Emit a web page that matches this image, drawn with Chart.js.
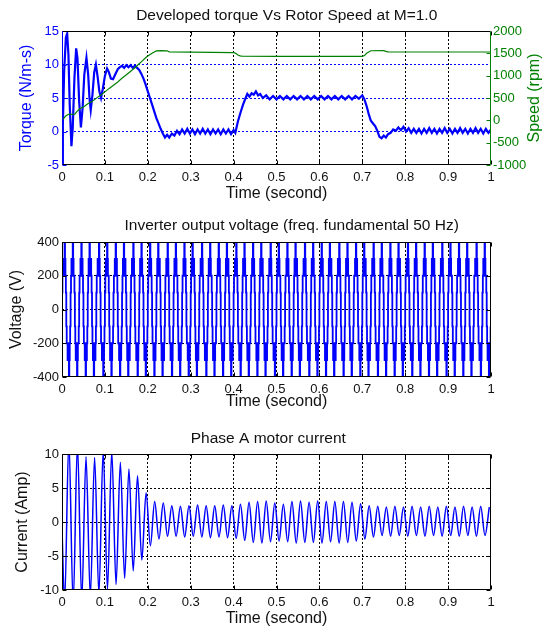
<!DOCTYPE html>
<html>
<head>
<meta charset="utf-8">
<script src="https://cdn.jsdelivr.net/npm/chart.js@4.4.1/dist/chart.umd.min.js"></script>
<style>
  html, body { margin: 0; padding: 0; background: #fff; }
  #wrap { position: relative; width: 542px; height: 629px; overflow: hidden; }
  canvas { position: absolute; left: 0; }
</style>
</head>
<body>
<div id="wrap">
  <canvas id="c1" width="542" height="203" style="top:0px"></canvas>
  <canvas id="c2" width="542" height="208" style="top:203px"></canvas>
  <canvas id="c3" width="542" height="218" style="top:411px"></canvas>
</div>
<script>
// ---- plot 1 : developed torque (N/m-s) and rotor speed (rpm) ----
const torqueTime = [
  0, 0.002, 0.005, 0.009, 0.012, 0.015, 0.018, 0.022, 0.025, 0.029,
  0.033, 0.036, 0.040, 0.044, 0.048, 0.052, 0.057, 0.061, 0.064, 0.067,
  0.071, 0.075, 0.079, 0.083, 0.087, 0.091, 0.095, 0.100, 0.105, 0.109,
  0.114, 0.119, 0.124, 0.130, 0.135, 0.140, 0.145, 0.150, 0.155, 0.160,
  0.165, 0.170, 0.175, 0.180, 0.185, 0.190, 0.195, 0.200, 0.205, 0.210,
  0.215, 0.220, 0.225, 0.230, 0.235, 0.240, 0.245, 0.250, 0.256, 0.262,
  0.268, 0.274, 0.280, 0.286, 0.292, 0.298, 0.304, 0.310, 0.316, 0.322,
  0.328, 0.334, 0.340, 0.346, 0.352, 0.358, 0.364, 0.370, 0.376, 0.382,
  0.388, 0.394, 0.400, 0.404, 0.410, 0.416, 0.422, 0.428, 0.432, 0.437,
  0.442, 0.447, 0.452, 0.457, 0.462, 0.468, 0.476, 0.484, 0.492, 0.500,
  0.508, 0.516, 0.524, 0.532, 0.540, 0.548, 0.556, 0.564, 0.572, 0.580,
  0.588, 0.596, 0.604, 0.612, 0.620, 0.628, 0.636, 0.644, 0.652, 0.660,
  0.668, 0.676, 0.684, 0.692, 0.700, 0.705, 0.710, 0.715, 0.720, 0.725,
  0.730, 0.735, 0.740, 0.745, 0.750, 0.755, 0.760, 0.766, 0.772, 0.778,
  0.784, 0.790, 0.796, 0.802, 0.808, 0.814, 0.820, 0.826, 0.832, 0.838,
  0.844, 0.850, 0.856, 0.862, 0.868, 0.874, 0.880, 0.886, 0.892, 0.898,
  0.904, 0.910, 0.916, 0.922, 0.928, 0.934, 0.940, 0.946, 0.952, 0.958,
  0.964, 0.970, 0.976, 0.982, 0.988, 0.994, 1.000
];
const torqueValue = [
  -6, 1, 9, 14, 14.6, 11.5, 4, -2.2, 0.5, 8,
  12.4, 11, 4.5, 0.6, 3.5, 8.5, 11.0, 8.5, 5, 3.2,
  5.5, 8.8, 10.0, 8.2, 6.0, 5.0, 6.3, 8.3, 9.4, 8.9,
  7.9, 7.8, 8.5, 9.3, 9.6, 9.8, 9.5, 9.9, 9.6, 9.9,
  9.5, 9.8, 9.5, 9.2, 8.6, 7.9, 7.0, 6.0, 5.0, 4.0,
  3.0, 2.0, 1.2, 0.4, -0.3, -0.9, -0.5, -0.9, -0.3, -0.6,
  0.1, -0.4, 0.3, -0.3, 0.4, -0.3, 0.3, -0.4, 0.3, -0.3,
  0.4, -0.3, 0.3, -0.4, 0.3, -0.3, 0.3, -0.4, 0.3, -0.3,
  0.3, -0.4, 0.2, -0.2, 1.5, 2.8, 4.0, 5.0, 5.6, 5.2,
  5.7, 5.5, 6.0, 5.4, 5.6, 5.0, 5.4, 4.8, 5.3, 4.8,
  5.3, 4.8, 5.3, 4.8, 5.3, 4.8, 5.3, 4.8, 5.3, 4.8,
  5.3, 4.8, 5.3, 4.8, 5.3, 4.8, 5.3, 4.8, 5.3, 4.8,
  5.3, 4.8, 5.3, 4.9, 5.4, 4.8, 3.8, 2.6, 1.6, 1.2,
  0.8, 0.1, -0.8, -1.0, -0.6, -0.9, -0.4, -0.2, 0.3, 0.1,
  0.6, 0.2, 0.7, 0.0, 0.5, -0.2, 0.4, -0.2, 0.4, -0.3,
  0.4, -0.2, 0.5, -0.2, 0.4, -0.3, 0.4, -0.2, 0.5, -0.2,
  0.4, -0.3, 0.4, -0.2, 0.5, -0.2, 0.4, -0.3, 0.4, -0.2,
  0.5, -0.2, 0.4, -0.3, 0.4, -0.2, 0.3
];
const speedTime = [
  0, 0.008, 0.015, 0.030, 0.035, 0.042, 0.050, 0.061, 0.070, 0.081,
  0.090, 0.100, 0.110, 0.120, 0.130, 0.139, 0.150, 0.158, 0.168, 0.178,
  0.186, 0.193, 0.200, 0.209, 0.215, 0.220, 0.230, 0.245, 0.250, 0.300,
  0.350, 0.400, 0.405, 0.410, 0.415, 0.420, 0.500, 0.600, 0.700, 0.705,
  0.710, 0.720, 0.750, 0.755, 0.760, 0.800, 0.900, 1.000
];
const speedRpm = [
  0, 90, 135, 140, 200, 266, 300, 378, 420, 503,
  560, 637, 715, 787, 860, 937, 1020, 1084, 1160, 1250,
  1320, 1383, 1440, 1495, 1530, 1555, 1560, 1556, 1532, 1525,
  1522, 1518, 1500, 1462, 1442, 1436, 1434, 1430, 1430, 1450,
  1500, 1558, 1562, 1545, 1532, 1530, 1530, 1530
];

// ---- plot 2 : inverter output voltage, one string per 20 ms cycle, 1 ms per character ----
// 0..4 -> 0..400 V, a..d -> -100..-400 V
const voltageStep = 0.001;
const voltageLevels = { '0': 0, '1': 100, '2': 200, '3': 300, '4': 400, 'a': -100, 'b': -200, 'c': -300, 'd': -400 };
const voltageCycles = [
  "1223234321abbcbcdcba", "1232343221abcbcdcbba", "1223243321abbcbdccba", "1232432321abcbdcbcba", "1223234321abbcbcdcba",
  "1232343221abcbcdcbba", "1223243321abbcbdccba", "1232432321abcbdcbcba", "1223234321abbcbcdcba", "1232343221abcbcdcbba",
  "1223243321abbcbdccba", "1232432321abcbdcbcba", "1223234321abbcbcdcba", "1232343221abcbcdcbba", "1223243321abbcbdccba",
  "1232432321abcbdcbcba", "1223234321abbcbcdcba", "1232343221abcbcdcbba", "1223243321abbcbdccba", "1232432321abcbdcbcba",
  "1223234321abbcbcdcba", "1232343221abcbcdcbba", "1223243321abbcbdccba", "1232432321abcbdcbcba", "1223234321abbcbcdcba",
  "1232343221abcbcdcbba", "1223243321abbcbdccba", "1232432321abcbdcbcba", "1223234321abbcbcdcba", "1232343221abcbcdcbba",
  "1223243321abbcbdccba", "1232432321abcbdcbcba", "1223234321abbcbcdcba", "1232343221abcbcdcbba", "1223243321abbcbdccba",
  "1232432321abcbdcbcba", "1223234321abbcbcdcba", "1232343221abcbcdcbba", "1223243321abbcbdccba", "1232432321abcbdcbcba",
  "1223234321abbcbcdcba", "1232343221abcbcdcbba", "1223243321abbcbdccba", "1232432321abcbdcbcba", "1223234321abbcbcdcba",
  "1232343221abcbcdcbba", "1223243321abbcbdccba", "1232432321abcbdcbcba", "1223234321abbcbcdcba", "1232343221abcbcdcbba"
];

// ---- plot 3 : phase A current, successive troughs / peaks every 10 ms from 6 ms ----
const currentStart = -1;
const currentFirstExtremum = 0.006;
const currentHalfPeriod = 0.01;
const currentExtrema = [
  -12, 12, -12, 11.5, -11.5, 9.6, -11, 9.5, -10.6, 10.5,
  -9.9, 10.4, -9.2, 8.8, -8.3, 7.8, -7.2, 6.8, -5.6, 4.3,
  -3.5, 3.0, -2.5, 2.8, -2.1, 2.4, -2.1, 2.3, -2.2, 2.4,
  -2.1, 2.5, -2.2, 2.4, -2.3, 2.4, -2.2, 2.5, -2.3, 2.4,
  -2.4, 2.6, -2.7, 2.9, -3.0, 3.0, -3.1, 3.1, -2.9, 2.8,
  -2.8, 2.6, -2.9, 3.0, -3.1, 3.1, -3.0, 2.9, -3.0, 3.1,
  -3.1, 3.0, -2.9, 3.0, -3.1, 3.0, -3.0, 2.9, -2.8, 2.7,
  -2.5, 2.4, -2.2, 2.3, -2.0, 2.2, -2.1, 2.3, -2.0, 2.2,
  -2.1, 2.3, -2.0, 2.2, -2.1, 2.3, -2.0, 2.2, -2.1, 2.3,
  -2.0, 2.2, -2.1, 2.3, -2.0, 2.2, -2.1, 2.3, -2.0, 2.2
];

const BLUE = '#0000ff';
const GREEN = '#008000';
const INK = '#111';
const FONT = '"Liberation Sans", Arial, Helvetica, sans-serif';
Chart.defaults.font.family = FONT;
const tickFont = { size: 13 };
const labelFont = { size: 16 };
const plainTick = (v) => String(Math.round(v * 100) / 100);

const torquePts = torqueTime.map((t, i) => ({ x: t, y: torqueValue[i] }));
const speedPts = speedTime.map((t, i) => ({ x: t, y: speedRpm[i] }));
const voltagePts = [];
voltageCycles.forEach((s, c) => {
  for (let i = 0; i < s.length; i++) {
    voltagePts.push({ x: (c * s.length + i) * voltageStep, y: voltageLevels[s[i]] });
  }
});
const currentPts = [{ x: 0, y: currentStart }].concat(
  currentExtrema.map((v, k) => ({ x: currentFirstExtremum + k * currentHalfPeriod, y: v }))
);

// grid line hidden at the edges (the frame is drawn there)
function innerGrid(color) {
  return (c) => {
    const s = c.scale;
    if (!c.tick || c.tick.value === s.min || c.tick.value === s.max) return 'rgba(0,0,0,0)';
    return color;
  };
}

function xScale(h, padBottom) {
  return {
    type: 'linear', min: 0, max: 1,
    ticks: { stepSize: 0.1, color: INK, font: tickFont, padding: 5, maxRotation: 0, autoSkip: false, callback: plainTick },
    grid: { drawTicks: false, color: innerGrid('#000'), lineWidth: 1 },
    border: { display: false, dash: [2, 2] },
    title: { display: true, text: 'Time (second)', color: INK, font: labelFont, padding: { top: 0, bottom: padBottom } },
    afterFit: (s) => { s.height = h; }
  };
}

function yScale(min, max, step, color, gridColor, label, labelPad) {
  return {
    type: 'linear', position: 'left', min: min, max: max,
    ticks: { stepSize: step, color: color, font: tickFont, padding: 3, callback: plainTick },
    grid: { drawTicks: false, color: innerGrid(gridColor), lineWidth: 1 },
    border: { display: false, dash: [2, 2] },
    title: { display: true, text: label, color: color, font: labelFont, padding: { top: labelPad, bottom: 0 } },
    afterFit: (s) => { s.width = 62; }
  };
}

// frame, inward tick marks and the panel titles
const panelDeco = {
  id: 'panelDeco',
  afterDraw(chart, args, o) {
    const { ctx, chartArea: a } = chart;
    const L = Math.round(a.left) + 0.5, R = Math.round(a.right) - 0.5;
    const T = Math.round(a.top) + 0.5, B = Math.round(a.bottom) - 0.5;
    const len = 4;
    ctx.save();
    ctx.lineWidth = 1;
    const line = (x1, y1, x2, y2, c) => {
      ctx.strokeStyle = c; ctx.beginPath(); ctx.moveTo(x1, y1); ctx.lineTo(x2, y2); ctx.stroke();
    };
    const xs = chart.scales.x;
    xs.ticks.forEach((t) => {
      const px = Math.round(xs.getPixelForValue(t.value)) + 0.5;
      line(px, B, px, B - len, '#000');
      line(px, T, px, T + len, '#000');
    });
    const ys = chart.scales.y;
    const rs = chart.scales.y2 || ys;
    ys.ticks.forEach((t) => {
      const py = Math.round(ys.getPixelForValue(t.value)) + 0.5;
      line(L, py, L + len, py, o.leftColor);
    });
    rs.ticks.forEach((t) => {
      const py = Math.round(rs.getPixelForValue(t.value)) + 0.5;
      line(R, py, R - len, py, o.rightColor);
    });
    line(L, T, R, T, '#000');
    line(L, B, R, B, '#000');
    line(L, T, L, B, o.leftColor);
    line(R, T, R, B, o.rightColor);

    ctx.textAlign = 'center';
    ctx.textBaseline = 'middle';
    ctx.fillStyle = INK;
    ctx.font = '15.5px ' + FONT;
    ctx.fillText(o.title, o.titleX, o.titleY);
    if (o.rightLabel) {
      ctx.translate(o.rightLabelX, (a.top + a.bottom) / 2);
      ctx.rotate(-Math.PI / 2);
      ctx.fillStyle = o.rightColor;
      ctx.font = '16px ' + FONT;
      ctx.fillText(o.rightLabel, 0, 0);
    }
    ctx.restore();
  }
};

const common = { responsive: false, animation: false, events: [] };
const noLegend = { legend: { display: false }, tooltip: { enabled: false } };

new Chart(document.getElementById('c1'), {
  type: 'line',
  data: {
    datasets: [
      { data: speedPts, yAxisID: 'y2', borderColor: GREEN, borderWidth: 1.2, pointRadius: 0, tension: 0 },
      { data: torquePts, yAxisID: 'y', borderColor: BLUE, borderWidth: 2.2, pointRadius: 0, tension: 0 }
    ]
  },
  options: Object.assign({}, common, {
    layout: { padding: { top: 31, left: 0, right: 0, bottom: 0 } },
    scales: {
      x: xScale(38, 0),
      y: yScale(-5, 15, 5, BLUE, BLUE, 'Torque (N/m-s)', 17),
      y2: {
        type: 'linear', position: 'right', min: -1000, max: 2000,
        ticks: { stepSize: 500, color: GREEN, font: tickFont, padding: 2, callback: plainTick },
        grid: { drawOnChartArea: false, drawTicks: false },
        border: { display: false },
        afterFit: (s) => { s.width = 51; }
      }
    },
    plugins: Object.assign({}, noLegend, {
      panelDeco: {
        title: 'Developed torque Vs Rotor Speed at M=1.0', titleX: 286.7, titleY: 15.3,
        leftColor: BLUE, rightColor: GREEN, rightLabel: 'Speed (rpm)', rightLabelX: 535
      }
    })
  }),
  plugins: [panelDeco]
});

new Chart(document.getElementById('c2'), {
  type: 'line',
  data: {
    datasets: [
      { data: voltagePts, borderColor: BLUE, borderWidth: 1.8, pointRadius: 0, stepped: true }
    ]
  },
  options: Object.assign({}, common, {
    layout: { padding: { top: 39, left: 0, right: 51, bottom: 0 } },
    scales: {
      x: xScale(34, 0),
      y: yScale(-400, 400, 200, INK, '#000', 'Voltage (V)', 7)
    },
    plugins: Object.assign({}, noLegend, {
      panelDeco: {
        title: 'Inverter output voltage (freq. fundamental 50 Hz)', titleX: 291.7, titleY: 22.7,
        leftColor: '#000', rightColor: '#000'
      }
    })
  }),
  plugins: [panelDeco]
});

new Chart(document.getElementById('c3'), {
  type: 'line',
  data: {
    datasets: [
      { data: currentPts, borderColor: BLUE, borderWidth: 1.5, pointRadius: 0, cubicInterpolationMode: 'monotone' }
    ]
  },
  options: Object.assign({}, common, {
    layout: { padding: { top: 43, left: 0, right: 51, bottom: 0 } },
    scales: {
      x: xScale(39, 1),
      y: yScale(-10, 10, 5, INK, '#000', 'Current (Amp)', 13.4)
    },
    plugins: Object.assign({}, noLegend, {
      panelDeco: {
        title: 'Phase A motor current', titleX: 268.3, titleY: 27.7,
        leftColor: '#000', rightColor: '#000'
      }
    })
  }),
  plugins: [panelDeco]
});
</script>
</body>
</html>
